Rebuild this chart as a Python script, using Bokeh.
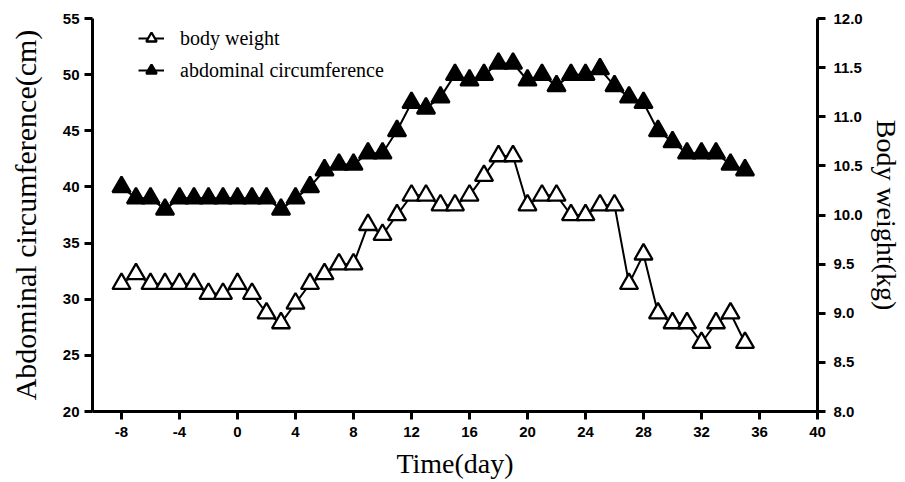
from bokeh.plotting import figure
from bokeh.models import Range1d, LinearAxis, FixedTicker, Legend, LegendItem, NumeralTickFormatter
from bokeh.embed import file_html
from bokeh.resources import INLINE

days = list(range(-8, 36))
abdominal_cm = [40, 39, 39, 38, 39, 39, 39, 39, 39, 39, 39, 38, 39, 40, 41.5, 42, 42, 43, 43, 45,
                47.5, 47, 48, 50, 49.5, 50, 51, 51, 49.5, 50, 49, 50, 50, 50.5, 49, 48, 47.5, 45,
                44, 43, 43, 43, 42, 41.5]
body_weight_kg = [9.3, 9.4, 9.3, 9.3, 9.3, 9.3, 9.2, 9.2, 9.3, 9.2, 9.0, 8.9, 9.1, 9.3, 9.4, 9.5,
                  9.5, 9.9, 9.8, 10.0, 10.2, 10.2, 10.1, 10.1, 10.2, 10.4, 10.6, 10.6, 10.1, 10.2,
                  10.2, 10.0, 10.0, 10.1, 10.1, 9.3, 9.6, 9.0, 8.9, 8.9, 8.7, 8.9, 9.0, 8.7]
x_ticks = list(range(-8, 41, 4))
left_ticks = list(range(20, 56, 5))
right_ticks = [8.0, 8.5, 9.0, 9.5, 10.0, 10.5, 11.0, 11.5, 12.0]

SERIF = "Liberation Serif"
SANS = "Liberation Sans"

p = figure(frame_width=725, frame_height=393, output_backend="svg", toolbar_location=None,
           x_range=Range1d(-10, 40), y_range=Range1d(20, 55),
           min_border_left=92, min_border_top=18, min_border_right=84, min_border_bottom=68)
p.extra_y_ranges = {"bw": Range1d(8, 12)}
p.outline_line_color = None
p.xgrid.grid_line_color = None
p.ygrid.grid_line_color = None
p.background_fill_color = "white"
p.border_fill_color = "white"

right = LinearAxis(y_range_name="bw")
p.add_layout(right, "right")

for ax in [p.xaxis[0], p.yaxis[0], right]:
    ax.axis_line_width = 3
    ax.axis_line_color = "black"
    ax.major_tick_line_width = 3
    ax.major_tick_line_color = "black"
    ax.major_tick_out = 8
    ax.major_tick_in = 0
    ax.minor_tick_line_color = None
    ax.major_label_text_font = SANS
    ax.major_label_text_font_style = "bold"
    ax.major_label_text_font_size = "15px"
    ax.major_label_text_color = "black"
    ax.axis_label_text_font = SERIF
    ax.axis_label_text_font_style = "normal"
    ax.axis_label_text_font_size = "28px"
    ax.axis_label_text_color = "black"

p.xaxis[0].ticker = FixedTicker(ticks=x_ticks)
p.xaxis[0].formatter = NumeralTickFormatter(format="0")
p.xaxis[0].axis_label = "Time(day)"
p.xaxis[0].major_label_standoff = 7
p.xaxis[0].axis_label_standoff = 8
p.yaxis[0].ticker = FixedTicker(ticks=left_ticks)
p.yaxis[0].formatter = NumeralTickFormatter(format="0")
p.yaxis[0].axis_label = "Abdominal circumference(cm)"
p.yaxis[0].axis_label_text_font_size = "30px"
p.yaxis[0].major_label_standoff = 5
p.yaxis[0].axis_label_standoff = 18
right.ticker = FixedTicker(ticks=right_ticks)
right.formatter = NumeralTickFormatter(format="0.0")
right.axis_label = "Body weight(kg)"
right.major_label_standoff = 8
right.axis_label_standoff = 5

l1 = p.line(days, body_weight_kg, line_color="black", line_width=2, y_range_name="bw")
s1 = p.scatter(days, body_weight_kg, marker="triangle", size=18, fill_color="white",
               line_color="black", line_width=2.3, y_range_name="bw")
l2 = p.line(days, abdominal_cm, line_color="black", line_width=2)
s2 = p.scatter(days, abdominal_cm, marker="triangle", size=18, fill_color="black",
               line_color="black", line_width=2.3)

legend = Legend(items=[LegendItem(label="body weight", renderers=[l1, s1]),
                       LegendItem(label="abdominal circumference", renderers=[l2, s2])],
                location=(46, 326), orientation="vertical")
legend.glyph_width = 26
legend.glyph_height = 30
legend.label_height = 30
legend.spacing = 2
legend.padding = 0
legend.margin = 0
legend.label_standoff = 16
legend.border_line_color = None
legend.background_fill_alpha = 0
legend.label_text_font = SERIF
legend.label_text_font_size = "20px"
legend.label_text_color = "black"
p.add_layout(legend, "center")

open("out.html", "w").write(file_html(p, INLINE))
